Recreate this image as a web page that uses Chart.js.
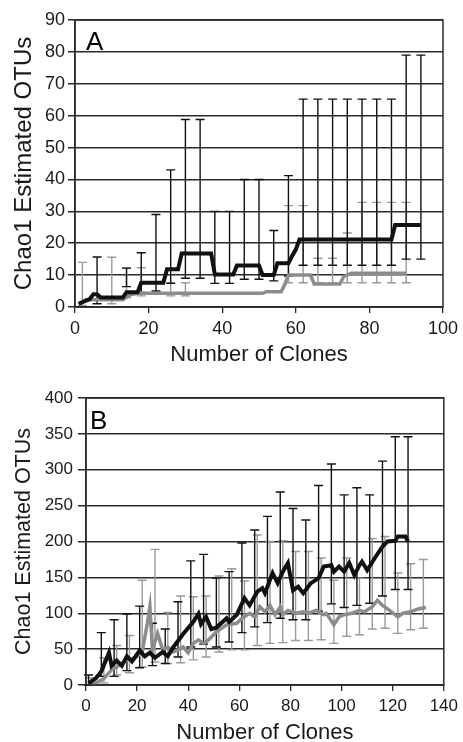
<!DOCTYPE html>
<html>
<head>
<meta charset="utf-8">
<script src="https://cdn.jsdelivr.net/npm/chart.js@4.4.0/dist/chart.umd.min.js"></script>
<style>
  body { margin: 0; background: #fff; }
  .box { position: absolute; left: 0; width: 463px; height: 371px; }
  #boxA { top: 0; }
  #boxB { top: 371px; }
</style>
</head>
<body>
<div class="box" id="boxA"><canvas id="chartA"></canvas></div>
<div class="box" id="boxB"><canvas id="chartB"></canvas></div>
<script>
// ---- panel A ----
var aBlackX = [1, 2, 3, 4, 5, 6, 7, 13, 14, 17, 18, 24, 25, 28, 29, 37, 38, 43, 44, 50, 51, 54, 55, 58, 59, 60, 61, 86, 87, 94];
var aBlackY = [1, 1.5, 2, 2.5, 4, 4, 3, 3, 4.6, 4.6, 7.6, 7.6, 11.8, 11.8, 16.8, 16.8, 10.2, 10.2, 13, 13, 10, 10, 13.7, 13.7, 16, 18, 21.2, 21.2, 25.7, 25.7];
var aGrayX = [1, 3, 13, 15, 17, 51, 52, 56, 57, 58, 64, 65, 72, 73, 75, 90];
var aGrayY = [1, 2.3, 2.3, 3.8, 4.3, 4.3, 4.8, 4.8, 7, 10, 10, 7.2, 7.2, 9.5, 10.6, 10.6];

var aBarX  = [6, 14, 18, 22, 26, 30, 34, 38, 42, 46, 50, 54, 58, 62, 66, 70, 74, 78, 82, 86, 90, 94];
var aBarLo = [1, 6.4, 4.6, 5, 7.4, 9, 9, 7.4, 7.4, 8.7, 8.7, 8.2, 9.7, 13.1, 13.1, 13.1, 13.1, 13.1, 13.1, 13.1, 15, 15];
var aBarHi = [15.7, 12.2, 17, 29, 43, 58.8, 58.8, 30, 30, 40, 40, 24, 41.2, 65.2, 65.2, 65.2, 65.2, 65.2, 65.2, 65.2, 79, 79];
var aGrayBarX  = [2, 10, 14, 18, 26, 30, 58, 62, 66, 70, 74, 78, 82, 86, 90];
var aGrayBarLo = [0.5, 1, 3, 3.5, 3.5, 3.5, 7.6, 7.6, 7.6, 7.6, 7.6, 7.6, 7.6, 7.6, 7.6];
var aGrayBarHi = [14, 15.6, 12.2, 12.3, 7.6, 7.6, 31.8, 31.8, 15.3, 15.3, 23.2, 32.8, 32.8, 32.8, 32.8];

// ---- panel B ----
var bBlackX = [1, 4, 6, 9, 10, 12, 14, 16, 18, 21, 23, 25, 27, 30, 32, 34, 38, 42, 44, 45, 47, 49, 51, 55, 56, 59, 62, 64, 67, 69, 70, 73, 75, 77, 79, 81, 83, 85, 88, 91, 93, 96, 97, 99, 101, 103, 105, 107, 108, 110, 113, 116, 118, 121, 122, 125, 126];
var bBlackY = [2, 10, 19, 45, 27, 34, 27, 40, 33, 48, 40, 45, 38, 46, 40, 52, 71, 88, 99, 85, 95, 78, 80, 93, 88, 98, 121, 111, 130, 135, 128, 156, 142, 158, 170, 132, 137, 128, 142, 149, 165, 167, 158, 165, 158, 170, 153, 167, 172, 160, 177, 193, 200, 201, 207, 207, 200];
var bGrayX = [1, 4, 7, 10, 12, 16, 19, 22, 24, 25, 26, 28, 30, 32, 34, 36, 38, 40, 42, 44, 46, 48, 51, 55, 59, 61, 64, 66, 68, 70, 72, 74, 76, 77, 79, 82, 85, 87, 90, 93, 94, 97, 99, 101, 104, 107, 109, 112, 114, 116, 118, 122, 124, 127, 130, 133];
var bGrayY = [1, 3, 9, 21, 25, 35, 37, 46, 86, 109, 49, 72, 49, 53, 46, 49, 53, 45, 58, 63, 58, 63, 74, 84, 86, 93, 100, 95, 109, 102, 111, 98, 109, 98, 104, 100, 102, 100, 104, 98, 100, 84, 95, 98, 100, 104, 102, 109, 118, 111, 106, 95, 100, 102, 106, 108];

var bBarX  = [1, 6, 11, 16, 21, 26, 31, 36, 41, 46, 51, 56, 61, 66, 71, 76, 81, 86, 91, 96, 101, 106, 111, 116, 121, 126];
var bBarLo = [0, 12, 12, 20, 24, 27, 30, 39, 53, 57, 53, 60, 73, 81, 87, 93, 91, 91, 103, 113, 108, 111, 114, 124, 133, 133];
var bBarHi = [14, 73, 91, 99, 110, 86, 78, 116, 173, 182, 149, 158, 198, 216, 235, 269, 246, 230, 278, 308, 265, 275, 265, 312, 346, 346];
var bGrayBarX  = [2, 7, 12, 17, 22, 27, 32, 37, 42, 47, 52, 57, 62, 67, 72, 77, 82, 87, 92, 97, 102, 107, 112, 117, 122, 127, 132];
var bGrayBarLo = [0, 3, 14, 17, 25, 32, 30, 31, 35, 39, 46, 49, 49, 55, 58, 59, 62, 62, 63, 58, 68, 70, 78, 79, 72, 77, 79];
var bGrayBarHi = [10, 38, 55, 69, 146, 189, 101, 124, 123, 124, 152, 162, 145, 209, 200, 201, 186, 186, 177, 146, 177, 149, 204, 207, 156, 169, 175];

var BLACK = '#111111';
var GRAY = '#8c8c8c';
var GRID = '#2a2a2a';

Chart.defaults.font.family = "'Liberation Sans', Arial, sans-serif";
Chart.defaults.color = '#1a1a1a';

function points(xs, ys) {
    return xs.map(function (v, i) { return { x: v, y: ys[i] }; });
}

// whiskers drawn through the chart's own scales
function errorBars(sets) {
    return {
        id: 'errorBars',
        beforeDatasetsDraw: function (chart) {
            var ctx = chart.ctx, x = chart.scales.x, y = chart.scales.y;
            ctx.save();
            ctx.lineWidth = 1.4;
            sets.forEach(function (s) {
                ctx.strokeStyle = s.color;
                s.x.forEach(function (v, i) {
                    var px = x.getPixelForValue(v);
                    var lo = y.getPixelForValue(s.lo[i]);
                    var hi = y.getPixelForValue(s.hi[i]);
                    ctx.beginPath();
                    ctx.moveTo(px, lo); ctx.lineTo(px, hi);
                    ctx.moveTo(px - 4.5, lo); ctx.lineTo(px + 4.5, lo);
                    ctx.moveTo(px - 4.5, hi); ctx.lineTo(px + 4.5, hi);
                    ctx.stroke();
                });
            });
            ctx.restore();
        }
    };
}

function frame(letter, dx, dy) {
    return {
        id: 'frame',
        afterDraw: function (chart) {
            var ctx = chart.ctx, a = chart.chartArea;
            ctx.save();
            ctx.strokeStyle = GRID;
            ctx.lineWidth = 1.5;
            ctx.strokeRect(a.left, a.top, a.right - a.left, a.bottom - a.top);
            ctx.fillStyle = '#000';
            ctx.font = "26px 'Liberation Sans', Arial, sans-serif";
            ctx.textBaseline = 'top';
            ctx.fillText(letter, a.left + dx, a.top + dy);
            ctx.restore();
        }
    };
}

function makeChart(id, p) {
    return new Chart(document.getElementById(id).getContext('2d'), {
        type: 'line',
        data: {
            datasets: [
                { data: points(p.blackX, p.blackY), borderColor: BLACK, borderWidth: 4, pointRadius: 0, tension: 0 },
                { data: points(p.grayX, p.grayY), borderColor: GRAY, borderWidth: 3.5, pointRadius: 0, tension: 0 }
            ]
        },
        options: {
            maintainAspectRatio: false,
            responsive: true,
            animation: false,
            layout: { padding: { top: p.top, right: 17, left: 0, bottom: 0 } },
            plugins: { legend: { display: false }, tooltip: { enabled: false } },
            scales: {
                x: {
                    type: 'linear', min: 0, max: p.xMax,
                    ticks: { stepSize: 20, font: { size: p.tickSize }, padding: 5, maxRotation: 0 },
                    grid: { drawOnChartArea: false, tickLength: 6, color: GRID, lineWidth: 1.3 },
                    border: { color: GRID, width: 1.5 },
                    title: { display: true, text: 'Number of Clones', font: { size: 22 }, padding: { top: 0, bottom: p.xTitlePad } },
                    afterFit: function (s) { s.height = p.xHeight; }
                },
                y: {
                    min: 0, max: p.yMax,
                    ticks: { stepSize: p.yStep, font: { size: p.tickSize }, padding: p.yTickPad },
                    grid: { color: GRID, lineWidth: 1.5, tickLength: p.yTickLen },
                    border: { color: GRID, width: 1.5 },
                    title: { display: true, text: 'Chao1 Estimated OTUs', font: { size: p.yTitleSize }, padding: { top: p.yTitlePad, bottom: 0 } },
                    afterFit: function (s) { s.width = p.yWidth; }
                }
            }
        },
        plugins: [errorBars(p.bars), frame(p.letter, p.letterDx, p.letterDy)]
    });
}

makeChart('chartA', {
    blackX: aBlackX, blackY: aBlackY, grayX: aGrayX, grayY: aGrayY,
    bars: [
        { x: aGrayBarX, lo: aGrayBarLo, hi: aGrayBarHi, color: '#9a9a9a' },
        { x: aBarX, lo: aBarLo, hi: aBarHi, color: BLACK }
    ],
    xMax: 100, yMax: 90, yStep: 10, top: 20, xHeight: 64, yWidth: 75,
    tickSize: 18, yTickPad: 3, yTickLen: 7, xTitlePad: 3,
    yTitleSize: 24, yTitlePad: 10,
    letter: 'A', letterDx: 11, letterDy: 10
});

makeChart('chartB', {
    blackX: bBlackX, blackY: bBlackY, grayX: bGrayX, grayY: bGrayY,
    bars: [
        { x: bGrayBarX, lo: bGrayBarLo, hi: bGrayBarHi, color: '#9a9a9a' },
        { x: bBarX, lo: bBarLo, hi: bBarHi, color: BLACK }
    ],
    xMax: 140, yMax: 400, yStep: 50, top: 27, xHeight: 57, yWidth: 86,
    tickSize: 17, yTickPad: 5, yTickLen: 8, xTitlePad: -4,
    yTitleSize: 21.5, yTitlePad: 11,
    letter: 'B', letterDx: 4, letterDy: 11
});
</script>
</body>
</html>
